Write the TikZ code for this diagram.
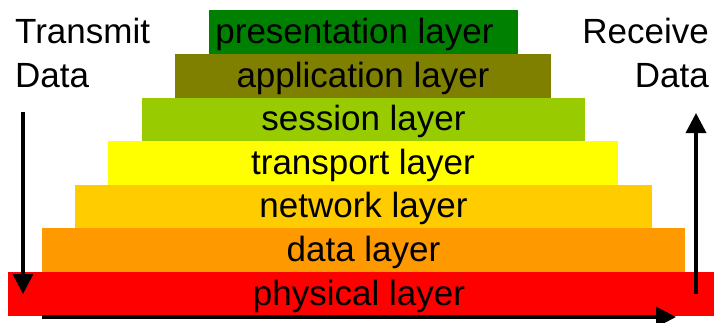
\documentclass[tikz,border=0pt]{standalone}
\usepackage{fontspec}
\setmainfont{Liberation Sans}
\usetikzlibrary{arrows.meta}
\definecolor{presgreen}{HTML}{008000}
\definecolor{appolive}{HTML}{808000}
\definecolor{sesslime}{HTML}{99CC00}
\definecolor{transyellow}{HTML}{FFFF00}
\definecolor{netgold}{HTML}{FFCC00}
\definecolor{dataorange}{HTML}{FF9900}
\definecolor{physred}{HTML}{FF0000}
\begin{document}
\begin{tikzpicture}[x=1pt,y=-1pt,
  layerbox/.style={rectangle,draw=none,inner sep=0pt,outer sep=0pt,minimum height=44pt},
  layertext/.style={anchor=base,inner sep=0pt,font=\fontsize{35}{41}\selectfont},
  sidetext/.style={inner sep=0pt,font=\fontsize{35}{41}\selectfont},
  flow/.style={line width=3.5pt,-{Triangle[width=20pt,length=20pt]}}]
\useasboundingbox (0,0) rectangle (714,322);

% stacked protocol layers, widest at the bottom
\node[layerbox,fill=presgreen,minimum width=309pt]   (pres)  at (363.5,32)  {};
\node[layerbox,fill=appolive,minimum width=376pt]    (app)   at (363,76)    {};
\node[layerbox,fill=sesslime,minimum width=443pt]    (sess)  at (363.5,119.5) {};
\node[layerbox,fill=transyellow,minimum width=510pt] (trans) at (363,163)   {};
\node[layerbox,fill=netgold,minimum width=577pt]     (net)   at (363.5,206.5) {};
\node[layerbox,fill=dataorange,minimum width=643pt]  (data)  at (363.5,250) {};
\node[layerbox,fill=physred,minimum width=706pt]     (phys)  at (361,294)   {};

% layer names
\node[layertext] (presl)  at ([xshift=-9pt,yshift=11pt]pres.south) {presentation layer};
\node[layertext] (appl)   at ([yshift=11pt]app.south)   {application layer};
\node[layertext] (sessl)  at ([yshift=11pt]sess.south)  {session layer};
\node[layertext] (transl) at ([yshift=11pt]trans.south) {transport layer};
\node[layertext] (netl)   at ([yshift=11pt]net.south)   {network layer};
\node[layertext] (datal)  at ([yshift=11pt]data.south)  {data layer};
\node[layertext] (physl)  at ([yshift=11pt,xshift=-2pt]phys.south)  {physical layer};

% side captions
\node[sidetext,anchor=base west] (tx1) at (15,43) {Transmit};
\node[sidetext,anchor=base west] (tx2) at (15,87) {Data};
\node[sidetext,anchor=base east] (rx1) at (709,43) {Receive};
\node[sidetext,anchor=base east] (rx2) at (709,87) {Data};

% data flow: down the sender, across the medium, up the receiver
\coordinate (sendtop) at (23,112);
\coordinate (sendbot) at (23,294);
\coordinate (wirel)   at (42,317);
\coordinate (wirer)   at (676,317);
\coordinate (recvbot) at (696,294);
\coordinate (recvtop) at (696,113);
\draw[flow] (sendtop) -- (sendbot);
\draw[flow] (wirel) -- (wirer);
\draw[flow] (recvbot) -- (recvtop);
\end{tikzpicture}
\end{document}
